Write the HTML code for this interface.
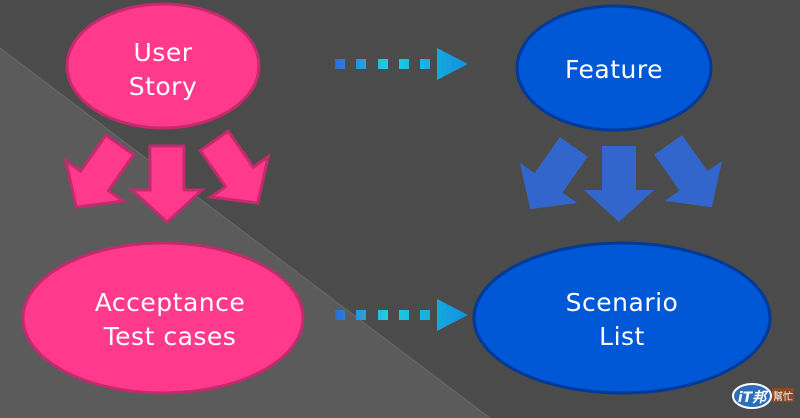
<!DOCTYPE html>
<html><head><meta charset="utf-8"><style>
html,body{margin:0;padding:0;width:800px;height:418px;overflow:hidden;background:#4a4a4a}
svg text{font-family:"DejaVu Sans","Liberation Sans",sans-serif;fill:#fff;font-size:25px;text-anchor:middle;letter-spacing:0.5px}
</style></head><body>
<svg width="800" height="418" viewBox="0 0 800 418">
<defs>
<linearGradient id="dg" x1="335" x2="468" gradientUnits="userSpaceOnUse"><stop offset="0" stop-color="#2f6ad8"/><stop offset="0.4" stop-color="#1ecfe0"/><stop offset="1" stop-color="#1190e0"/></linearGradient>
<polygon id="ar" points="-17,-38 17,-38 17,6 35,6 0,38 -35,6 -17,6"/>
</defs>
<rect width="800" height="418" fill="#4b4b4b"/>
<polygon points="0,48 490,418 0,418" fill="#5b5b5b"/>
<line x1="0" y1="48" x2="490" y2="418" stroke="#6a6a6a" stroke-width="1"/>
<g fill="#ff3a8c" stroke="#c42a6c" stroke-width="3">
<ellipse cx="163" cy="66" rx="96" ry="62"/>
<ellipse cx="163" cy="318" rx="140" ry="75"/>
<use href="#ar" transform="translate(167,184)"/>
<use href="#ar" transform="translate(98,176) rotate(35)"/>
<use href="#ar" transform="translate(236,172) rotate(-35)"/>
</g>
<g fill="#0058d6" stroke="#003a99" stroke-width="3">
<ellipse cx="614" cy="68" rx="97" ry="62"/>
<ellipse cx="622" cy="318" rx="148" ry="75"/>
</g>
<g fill="#3366cc">
<use href="#ar" transform="translate(619,184)"/>
<use href="#ar" transform="translate(552,178) rotate(35)"/>
<use href="#ar" transform="translate(690,176) rotate(-35)"/>
</g>
<g fill="url(#dg)">
<rect x="335" y="59" width="10" height="10"/><rect x="356" y="59" width="10" height="10"/><rect x="378" y="59" width="10" height="10"/><rect x="399" y="59" width="10" height="10"/><rect x="420" y="59" width="10" height="10"/>
<polygon points="437,48 468,64 437,80"/>
<rect x="335" y="310" width="10" height="10"/><rect x="356" y="310" width="10" height="10"/><rect x="378" y="310" width="10" height="10"/><rect x="399" y="310" width="10" height="10"/><rect x="420" y="310" width="10" height="10"/>
<polygon points="437,299 468,315 437,331"/>
</g>
<text x="163" y="61">User</text>
<text x="163" y="95">Story</text>
<text x="614" y="78">Feature</text>
<text x="170" y="311">Acceptance</text>
<text x="170" y="345">Test cases</text>
<text x="622" y="311">Scenario</text>
<text x="622" y="345">List</text>
<ellipse cx="752" cy="396" rx="19" ry="12" fill="#2a6fb8" stroke="#fff" stroke-width="2"/>
<text x="752" y="402" style="font-size:14px;font-weight:bold;font-style:italic;letter-spacing:0">iT邦</text>
<rect x="772" y="388" width="22" height="14" fill="#8a4a2a"/>
<text x="783" y="400" style="font-size:10px;letter-spacing:0">幫忙</text>
</svg>
</body></html>
